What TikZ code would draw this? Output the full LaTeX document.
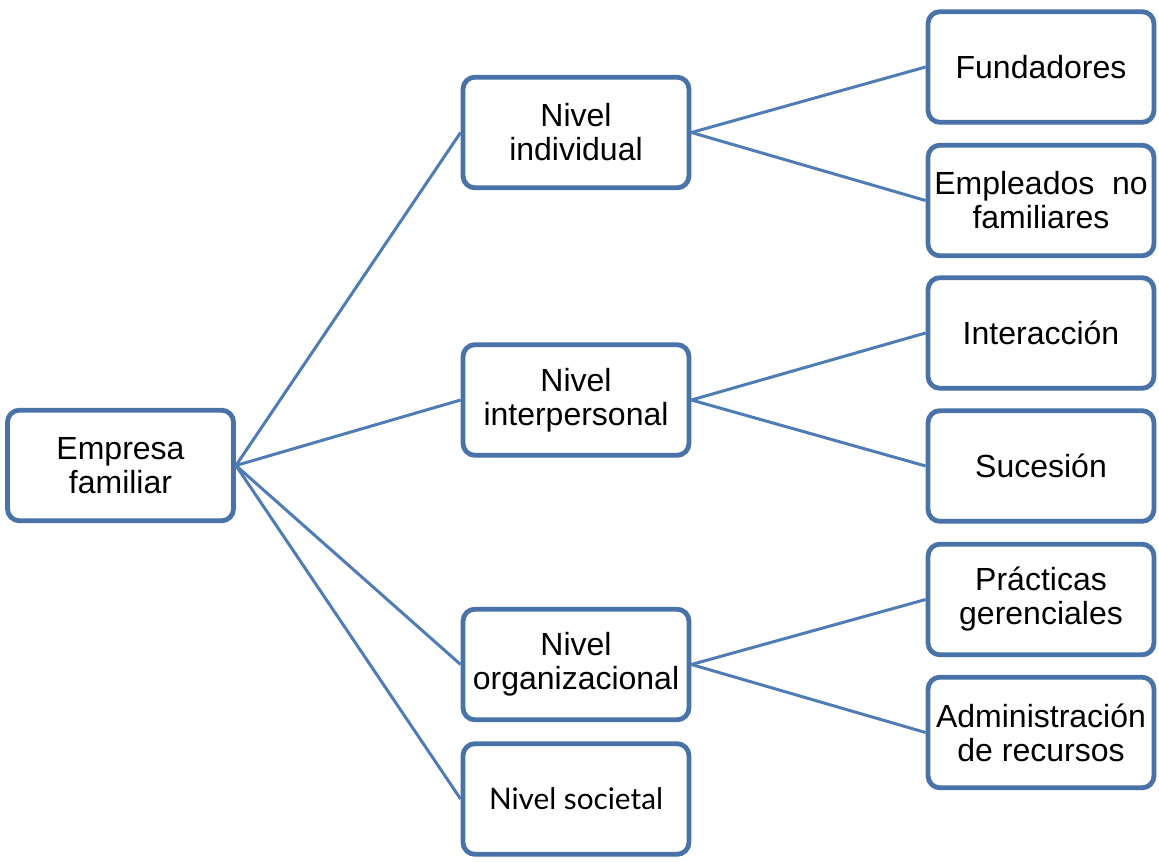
\documentclass[tikz,border=0pt]{standalone}
\usepackage{fontspec}
\setmainfont{Liberation Sans}
\newfontfamily\socfont{Lato}
\usepackage{tikz}
\usetikzlibrary{shadows}
\definecolor{boxblue}{RGB}{72,114,168}
\definecolor{lineblue}{RGB}{79,124,180}

\begin{document}
\begin{tikzpicture}[x=0.75pt,y=0.75pt,yscale=-1,xscale=1,
	box/.style={draw=boxblue, line width=3.6pt, fill=white, rounded corners=9pt,
		minimum width=169.5pt, minimum height=83pt, inner sep=2pt, align=center,
		font=\fontsize{24}{25.5}\selectfont,
		drop shadow={shadow xshift=0.6pt, shadow yshift=-1.6pt, opacity=0.25}},
	link/.style={draw=lineblue, line width=2.25pt}]

	\useasboundingbox (0,0) rectangle (1159,863);

	%Shape: Rounded Rect [root]
	\node (emp) at (120.5,465.5) [box] {Empresa\\familiar};

	%Shape: Rounded Rect [middle column]
	\node (ind) at (576,132.5) [box] {Nivel\\individual};
	\node (inter) at (576,400) [box] {Nivel\\interpersonal};
	\node (org) at (576,664.5) [box] {Nivel\\organizacional};
	\node (soc) at (576,799) [box, font=\socfont\fontsize{22.3}{24}\selectfont] {Nivel societal};

	%Shape: Rounded Rect [right column]
	\node (fun) at (1041,67) [box] {Fundadores};
	\node (emple) at (1041,200.5) [box] {Empleados\ \ no\\familiares};
	\node (inta) at (1041,333) [box] {Interacción};
	\node (suc) at (1041,466) [box] {Sucesión};
	\node (prac) at (1041,599.5) [box] {Prácticas\\gerenciales};
	\node (adm) at (1041,732.5) [box] {Administración\\de recursos};

	%Straight Lines
	\draw [link] (emp.east) -- (ind.west);
	\draw [link] (emp.east) -- (inter.west);
	\draw [link] (emp.east) -- (org.west);
	\draw [link] (emp.east) -- (soc.west);
	%Straight Lines
	\draw [link] (ind.east) -- (fun.west);
	\draw [link] (ind.east) -- (emple.west);
	\draw [link] (inter.east) -- (inta.west);
	\draw [link] (inter.east) -- (suc.west);
	\draw [link] (org.east) -- (prac.west);
	\draw [link] (org.east) -- (adm.west);

\end{tikzpicture}
\end{document}
